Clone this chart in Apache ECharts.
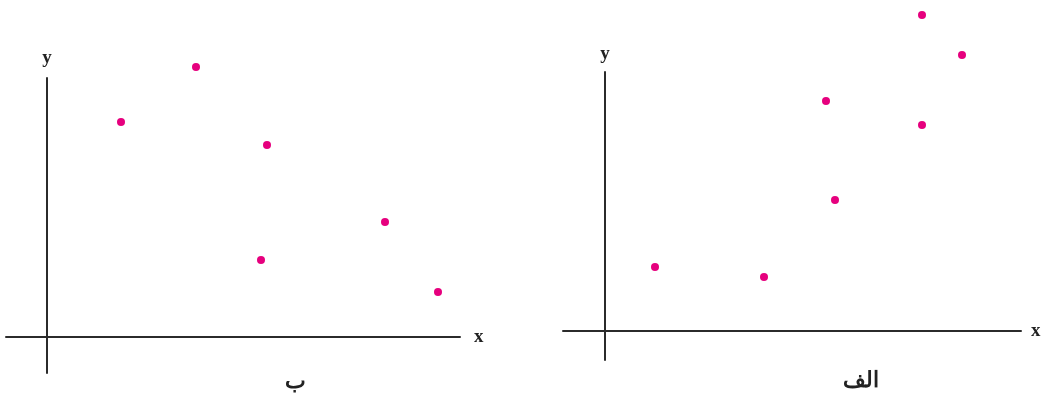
<!DOCTYPE html>
<html>
<head>
<meta charset="utf-8">
<script src="https://cdn.jsdelivr.net/npm/echarts@6/dist/echarts.min.js"></script>
<style>
  html, body { margin: 0; padding: 0; background: #fff; }
  #main { width: 1049px; height: 397px; }
</style>
</head>
<body>
<div id="main"></div>
<script>
  // left panel (ب) points, arbitrary units
  var leftX = [7.4, 14.9, 22.0, 21.4, 33.8, 39.1];
  var leftY = [21.5, 27.0, 19.2, 7.7, 11.5, 4.5];
  // right panel (الف) points
  var rightX = [5.0, 15.9, 22.1, 23.0, 31.7, 31.7, 35.7];
  var rightY = [6.4, 5.4, 23.0, 13.1, 31.6, 20.6, 27.6];
  var panelLabels = ['ب', 'الف'];

  var dotColor = '#e6007e';
  var lineColor = '#2b2b2b';
  var serif = '"Liberation Serif", "DejaVu Serif", serif';

  function pairs(xs, ys) {
    return xs.map(function (v, i) { return [v, ys[i]]; });
  }

  function axis(min, max, name, gap) {
    return {
      type: 'value', min: min, max: max,
      name: name, nameLocation: 'end', nameGap: gap,
      nameTextStyle: { fontFamily: serif, fontWeight: 'bold', fontSize: 19, color: '#222' },
      axisLine: { show: true, onZero: true, lineStyle: { color: lineColor, width: 2 } },
      axisTick: { show: false }, axisLabel: { show: false }, splitLine: { show: false }
    };
  }

  var myChart = echarts.init(document.getElementById('main'));
  var option = {
    animation: false,
    grid: [
      { left: 6, right: 589, top: 78, bottom: 24 },
      { left: 563, right: 28, top: 72, bottom: 37 }
    ],
    xAxis: [
      Object.assign(axis(-4.1, 41.3, 'x', 14), { gridIndex: 0 }),
      Object.assign(axis(-4.2, 41.6, 'x', 10), { gridIndex: 1 })
    ],
    yAxis: [
      Object.assign(axis(-3.6, 25.9, 'y', 10), { gridIndex: 0 }),
      Object.assign(axis(-2.9, 25.9, 'y', 8), { gridIndex: 1 })
    ],
    graphic: [
      { type: 'text', left: 285, top: 371, style: { text: panelLabels[0], font: 'bold 22px ' + serif, fill: '#222' } },
      { type: 'text', left: 843, top: 370, style: { text: panelLabels[1], font: 'bold 22px ' + serif, fill: '#222' } }
    ],
    series: [
      { type: 'scatter', xAxisIndex: 0, yAxisIndex: 0, clip: false, symbolSize: 8,
        itemStyle: { color: dotColor, opacity: 1 }, data: pairs(leftX, leftY) },
      { type: 'scatter', xAxisIndex: 1, yAxisIndex: 1, clip: false, symbolSize: 8,
        itemStyle: { color: dotColor, opacity: 1 }, data: pairs(rightX, rightY) }
    ]
  };
  myChart.setOption(option);
</script>
</body>
</html>
